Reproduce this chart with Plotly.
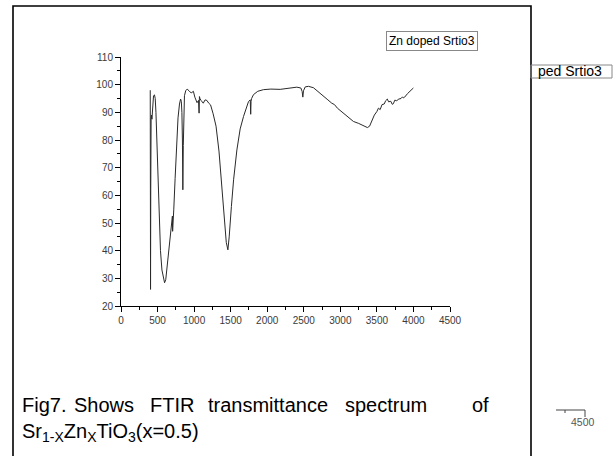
import plotly.graph_objects as go

# ---- data ----
wavenumber = [400, 402, 404, 407, 412, 418, 423, 428, 435, 445, 458, 468, 478, 490, 505, 520, 540, 560,
              580, 596, 612, 630, 655, 680, 697, 703, 706, 709, 713, 722, 740, 760, 780, 800, 815, 825,
              833, 840, 846, 852, 858, 868, 885, 905, 930, 960, 990, 1010, 1040, 1060, 1068, 1073, 1080,
              1095, 1125, 1150, 1175, 1200, 1225, 1260, 1300, 1340, 1380, 1410, 1440, 1462, 1480, 1510,
              1540, 1585, 1630, 1676, 1710, 1744, 1768, 1774, 1779, 1786, 1812, 1870, 1949, 2050, 2177,
              2300, 2405, 2460, 2478, 2487, 2496, 2520, 2564, 2632, 2700, 2769, 2830, 2883, 2920, 2960,
              3042, 3100, 3179, 3250, 3300, 3340, 3370, 3400, 3430, 3465, 3500, 3521, 3545, 3570, 3600,
              3620, 3643, 3660, 3690, 3710, 3725, 3745, 3771, 3800, 3830, 3850, 3862, 3880, 3920, 3960,
              3999]
transmittance = [98, 70, 26, 62, 87.5, 89, 87.5, 91, 94.5, 96, 96.3, 95, 90, 80, 65, 52, 40, 33,
                 29.5, 28.4, 29.5, 34, 41, 47.5, 50.5, 52.5, 47, 51, 50, 55, 66, 79, 88, 93, 94.8, 94,
                 90, 80, 62, 78, 92, 96, 97.8, 98.4, 97.8, 97, 97.6, 95.5, 93.5, 94.3, 89.7, 95.7, 95,
                 94.3, 93.3, 94.5, 94.3, 93.3, 92.7, 89.5, 85, 76, 62, 52, 43, 40.3, 45, 56,
                 65.6, 76.4, 84, 88.5, 91.5, 93.9, 94.5, 89.3, 94, 95, 96.4, 97.6, 98.2, 98.4, 98.3,
                 98.6, 99.1, 98.8, 97.5, 95.5, 97.8, 99.2, 99.4, 98.9, 97.5, 95.8, 94.5, 93.3, 92.8, 91.5,
                 89.7, 88.3, 86.7, 86, 85.3, 84.9, 84.5, 85, 86.7, 89, 90.3, 91.5, 91, 92.8, 93,
                 94.2, 94.8, 93.8, 94, 92.9, 93.1, 94.4, 94.2, 94.8, 95, 95.6, 95.2, 95.5, 96.8, 97.8,
                 98.8]

x_ticks = [0, 500, 1000, 1500, 2000, 2500, 3000, 3500, 4000, 4500]
y_ticks = [20, 30, 40, 50, 60, 70, 80, 90, 100, 110]
legend_label = "Zn doped Srtio3"
partial_legend = "ped Srtio3"
caption_words = ["Fig7.", "Shows", "FTIR", "transmittance", "spectrum", "of"]
caption_line2 = "Sr<sub>1-X</sub>Zn<sub>X</sub>TiO<sub>3</sub>(x=0.5)"
ghost_tick = "4500"

# ---- layout geometry (pixels) ----
W, H = 616, 456
L, R, T, B = 121, 166, 57, 150
PW, PH = W - L - R, H - T - B
FRAME_R = 531


def px(x):
    return (x - L) / PW


def py(y):
    return (H - B - y) / PH


fig = go.Figure()
fig.add_trace(go.Scatter(x=wavenumber, y=transmittance, mode="lines",
                         line=dict(color="#2a2a2a", width=1), showlegend=False))

axis_font = dict(family="Arial, Liberation Sans", size=10, color="#3a3a3a")
fig.update_layout(
    width=W, height=H, autosize=False,
    margin=dict(l=L, r=R, t=T, b=B, pad=0),
    paper_bgcolor="white", plot_bgcolor="white",
    xaxis=dict(range=[0, 4500], tickvals=x_ticks, ticktext=[str(v) for v in x_ticks],
               showgrid=False, zeroline=False, showline=True, linecolor="black", linewidth=1,
               ticks="outside", ticklen=5, tickcolor="black", tickfont=axis_font,
               minor=dict(dtick=250, tick0=0, ticks="outside", ticklen=3, tickcolor="black", showgrid=False)),
    yaxis=dict(range=[20, 110], tickvals=y_ticks, ticktext=[str(v) for v in y_ticks],
               showgrid=False, zeroline=False, showline=True, linecolor="black", linewidth=1,
               ticks="outside", ticklen=5, tickcolor="black", tickfont=axis_font,
               minor=dict(dtick=5, tick0=20, ticks="outside", ticklen=3, tickcolor="black", showgrid=False)),
)

shapes = []
# outer frame of the figure panel
shapes.append(dict(type="path", xref="paper", yref="paper",
                   path=f"M {px(13)},{py(470)} L {px(13)},{py(6)} L {px(FRAME_R)},{py(6)} L {px(FRAME_R)},{py(470)}",
                   line=dict(color="black", width=1.6)))
# partial legend box of the figure behind
shapes.append(dict(type="rect", xref="paper", yref="paper",
                   x0=px(FRAME_R), x1=px(612), y0=py(78), y1=py(65),
                   line=dict(color="#888888", width=1)))
# partial axis of the figure behind
shapes.append(dict(type="line", xref="paper", yref="paper",
                   x0=px(556), x1=px(585), y0=py(410), y1=py(410), line=dict(color="#444444", width=1)))
shapes.append(dict(type="line", xref="paper", yref="paper",
                   x0=px(585), x1=px(585), y0=py(410), y1=py(417), line=dict(color="#444444", width=1)))
shapes.append(dict(type="line", xref="paper", yref="paper",
                   x0=px(565), x1=px(565), y0=py(410), y1=py(413), line=dict(color="#444444", width=1)))
fig.update_layout(shapes=shapes)

ann = []
ann.append(dict(xref="paper", yref="paper", x=px(432), y=py(41), xanchor="center", yanchor="middle",
                text=legend_label, showarrow=False, bordercolor="#888888", borderwidth=1, borderpad=2,
                bgcolor="white", font=dict(family="Arial, Liberation Sans", size=12, color="black")))
ann.append(dict(xref="paper", yref="paper", x=px(536), y=py(71.5), xanchor="left", yanchor="middle",
                text=partial_legend, showarrow=False,
                font=dict(family="Arial, Liberation Sans", size=14, color="black")))
ann.append(dict(xref="paper", yref="paper", x=px(583), y=py(422), xanchor="center", yanchor="middle",
                text=ghost_tick, showarrow=False,
                font=dict(family="Arial, Liberation Sans", size=10.5, color="#555555")))

word_x = [20, 72, 148, 206, 343, 470]
for w, x0 in zip(caption_words, word_x):
    ann.append(dict(xref="paper", yref="paper", x=px(x0), y=py(405), xanchor="left", yanchor="middle",
                    text=w, showarrow=False,
                    font=dict(family="Arial, Liberation Sans", size=20, color="black")))
ann.append(dict(xref="paper", yref="paper", x=px(20), y=py(432), xanchor="left", yanchor="middle",
                text=caption_line2, showarrow=False,
                font=dict(family="Arial, Liberation Sans", size=20, color="black")))
fig.update_layout(annotations=ann)

fig.write_html("out.html")
